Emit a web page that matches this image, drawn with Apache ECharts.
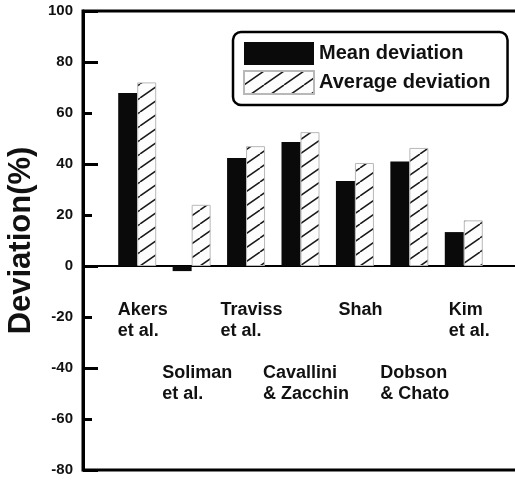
<!DOCTYPE html>
<html>
<head>
<meta charset="utf-8">
<script src="https://cdn.jsdelivr.net/npm/echarts@6/dist/echarts.min.js"></script>
<style>
  html, body { margin: 0; padding: 0; background: #fff; }
  #chart { width: 515px; height: 481px; }
</style>
</head>
<body>
<div id="chart"></div>
<script>
// data
const categories = ['Akers\net al.', 'Soliman\net al.', 'Traviss\net al.', 'Cavallini\n& Zacchin', 'Shah', 'Dobson\n& Chato', 'Kim\net al.'];
const meanDeviation = [67.8, -2, 42.4, 48.6, 33.3, 41, 13.3];
const averageDeviation = [72, 24, 47, 52.5, 40.4, 46.3, 17.9];
const yMin = -80;
const yMax = 100;
const yStep = 20;

const FONT = '"Liberation Sans", Arial, sans-serif';

// diagonal hatch tile, lines going up to the right
function hatchPattern(w, h) {
  const c = document.createElement('canvas');
  c.width = w;
  c.height = h;
  const ctx = c.getContext('2d');
  ctx.fillStyle = '#fdfdfd';
  ctx.fillRect(0, 0, w, h);
  ctx.strokeStyle = '#1a1a1a';
  ctx.lineWidth = 1.5;
  ctx.beginPath();
  [-w, 0, w].forEach(dx => {
    ctx.moveTo(dx, h);
    ctx.lineTo(dx + w, 0);
  });
  ctx.stroke();
  return { image: c, repeat: 'repeat' };
}

// staggered labels: every second category drops to a lower row
function labelFormatter(value, index) {
  const lines = value.split('\n').map(s => '{a|' + s + '}').join('\n');
  return index % 2 === 1 ? '{a| }\n{a| }\n{a| }\n' + lines : lines;
}

let chart = echarts.init(document.getElementById('chart'));

chart.setOption({
  animation: false,
  legend: {
    orient: 'vertical',
    left: 233,
    top: 32,
    padding: [10, 17, 10, 10],
    itemWidth: 70,
    itemHeight: 23,
    itemGap: 5,
    icon: 'rect',
    borderColor: '#000',
    borderWidth: 2.5,
    borderRadius: 8,
    textStyle: { fontFamily: FONT, fontSize: 20, fontWeight: 'bold', color: '#111' },
    data: ['Mean deviation', 'Average deviation']
  },
  grid: [
    // frame grid, the right side runs off the page
    { left: 83, top: 11, width: 440, height: 459, outerBoundsMode: 'none', containLabel: false,
      show: true, borderColor: '#000', borderWidth: 3 },
    // bar grid
    { left: 110, top: 11, width: 381, height: 459, outerBoundsMode: 'none', containLabel: false }
  ],
  xAxis: [
    {
      type: 'value', gridIndex: 0, min: 0, max: 1,
      axisLine: { onZero: true, lineStyle: { color: '#000', width: 2 } },
      axisTick: { show: false }, axisLabel: { show: false }, splitLine: { show: false }
    },
    {
      // labels sit under the zero line, pulled up from the bottom edge
      type: 'category', gridIndex: 1, data: categories, position: 'bottom',
      axisLine: { show: false, onZero: false },
      axisTick: { show: false },
      axisLabel: {
        interval: 0,
        margin: -170,
        verticalAlign: 'top',
        lineHeight: 21,
        padding: [0, 0, 0, 11],
        formatter: labelFormatter,
        rich: {
          a: { fontFamily: FONT, fontSize: 18, fontWeight: 'bold', color: '#111', lineHeight: 21, align: 'left' }
        }
      }
    }
  ],
  yAxis: [
    {
      type: 'value', gridIndex: 0, min: yMin, max: yMax, interval: yStep,
      name: 'Deviation(%)', nameLocation: 'middle', nameGap: 45,
      nameTextStyle: { fontFamily: FONT, fontSize: 31, fontWeight: 'bold', color: '#111' },
      axisLine: { show: true, lineStyle: { color: '#000', width: 3 } },
      axisTick: { show: true, inside: true, length: 9, lineStyle: { color: '#000', width: 3 } },
      axisLabel: { fontFamily: FONT, fontSize: 15, fontWeight: 'bold', color: '#111', margin: 10 },
      splitLine: { show: false }
    },
    {
      // longer ticks every 40
      type: 'value', gridIndex: 0, position: 'left', min: yMin, max: yMax, interval: yStep * 2,
      axisLine: { show: false },
      axisTick: { show: true, inside: true, length: 15, lineStyle: { color: '#000', width: 3 } },
      axisLabel: { show: false },
      splitLine: { show: false }
    },
    {
      type: 'value', gridIndex: 1, min: yMin, max: yMax, show: false, splitLine: { show: false }
    }
  ],
  series: [
    {
      name: 'Mean deviation',
      type: 'bar',
      xAxisIndex: 1,
      yAxisIndex: 2,
      data: meanDeviation,
      barWidth: 19,
      barGap: '0%',
      itemStyle: { color: '#0a0a0a' }
    },
    {
      name: 'Average deviation',
      type: 'bar',
      xAxisIndex: 1,
      yAxisIndex: 2,
      data: averageDeviation,
      barWidth: 19,
      barGap: '0%',
      itemStyle: { color: hatchPattern(20, 14), borderColor: '#b8b8b8', borderWidth: 1 }
    }
  ]
});
</script>
</body>
</html>
